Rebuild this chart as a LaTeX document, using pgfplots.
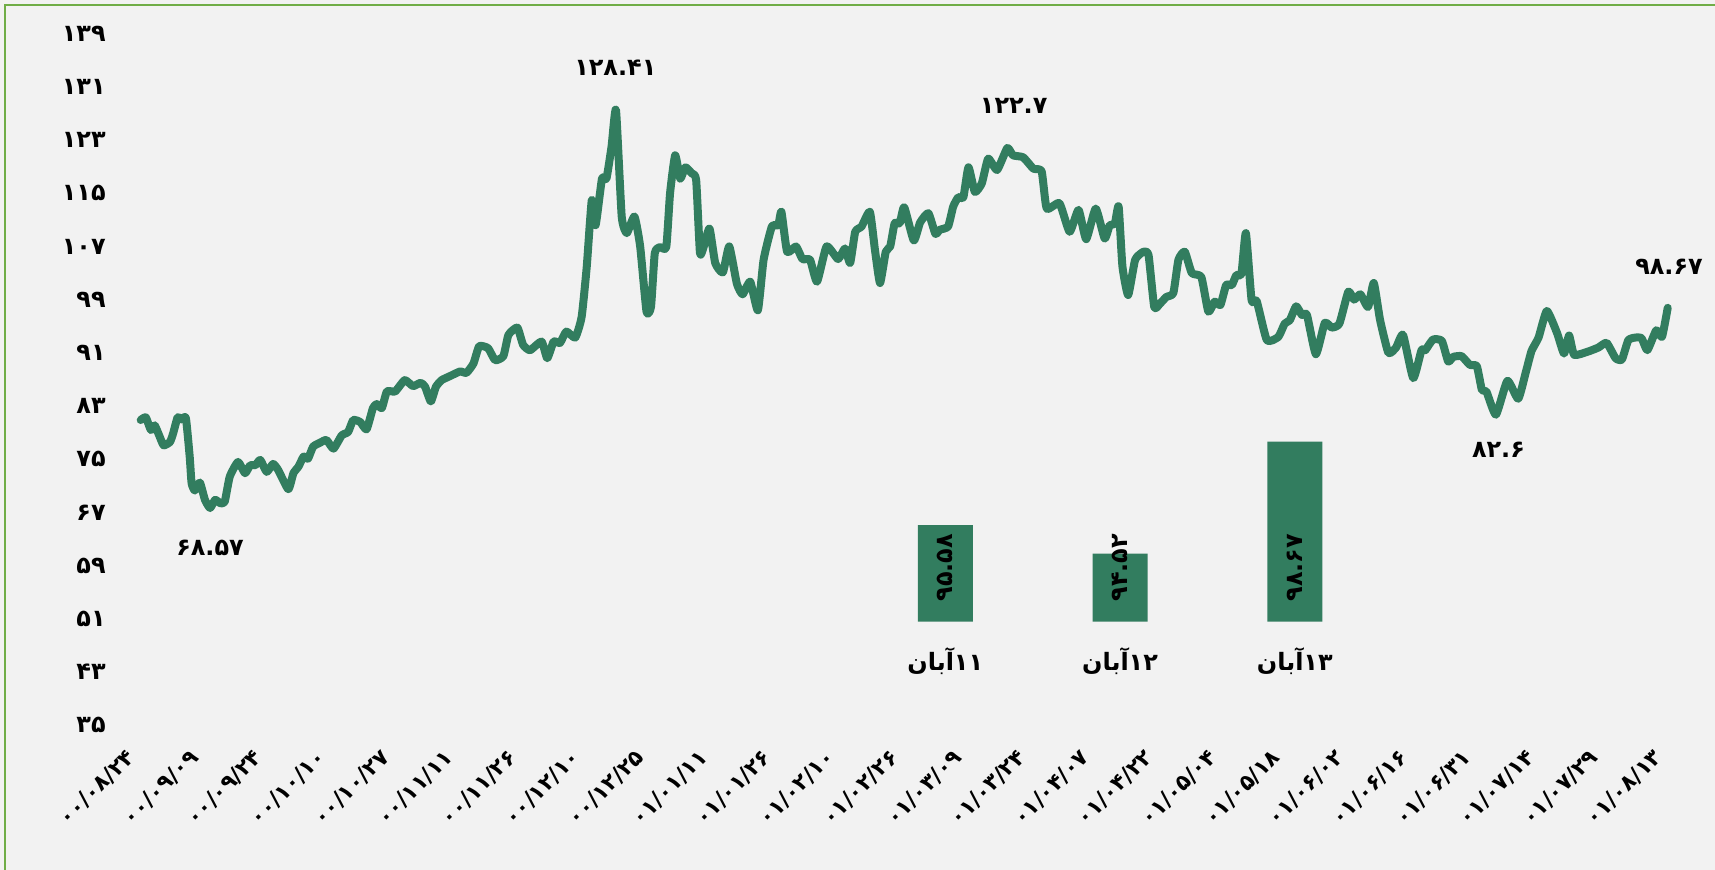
\documentclass[border=0pt]{standalone}
\usepackage{fontspec}
\usepackage{pgfplots}
\pgfplotsset{compat=1.18}
\TeXXeTstate=1
\newfontfamily\fa[Script=Arabic]{DejaVu Sans}
\newfontfamily\fanum{DejaVu Sans}
\definecolor{bgcol}{HTML}{F2F2F2}
\definecolor{framecol}{HTML}{70AD47}
\definecolor{linecol}{RGB}{50,125,95}
\newcommand{\numfont}{\fanum\bfseries\fontsize{12}{14}\selectfont}
\newcommand{\datefont}{\fanum\bfseries\fontsize{11}{13}\selectfont}

\begin{document}
\begin{tikzpicture}
  \fill[bgcol] (0,0) rectangle (857.5bp,435bp);
  \useasboundingbox (0,0) rectangle (857.5bp,435bp);
  \draw[framecol, line width=1.2bp] (2.5bp,0) -- (2.5bp,432.5bp) -- (857.5bp,432.5bp);

  % main line series
  \begin{axis}[
      at={(70.35bp,69.35bp)}, anchor=south west,
      width=763.5bp, height=345.85bp, scale only axis,
      xmin=0, xmax=240, ymin=35, ymax=139,
      axis line style={draw=none}, tick style={draw=none},
      ytick={35,43,...,139},
      yticklabels={۳۵,۴۳,۵۱,۵۹,۶۷,۷۵,۸۳,۹۱,۹۹,۱۰۷,۱۱۵,۱۲۳,۱۳۱,۱۳۹},
      yticklabel style={font=\numfont, anchor=east, xshift=-14bp, yshift=3bp},
      xtick={0,10,...,240},
      xticklabels={۰۰/۰۸/۲۴,۰۰/۰۹/۰۹,۰۰/۰۹/۲۴,۰۰/۱۰/۱۰,۰۰/۱۰/۲۷,۰۰/۱۱/۱۱,۰۰/۱۱/۲۶,۰۰/۱۲/۱۰,۰۰/۱۲/۲۵,۰۱/۰۱/۱۱,۰۱/۰۱/۲۶,۰۱/۰۲/۱۰,۰۱/۰۲/۲۶,۰۱/۰۳/۰۹,۰۱/۰۳/۲۴,۰۱/۰۴/۰۷,۰۱/۰۴/۲۲,۰۱/۰۵/۰۴,۰۱/۰۵/۱۸,۰۱/۰۶/۰۲,۰۱/۰۶/۱۶,۰۱/۰۶/۳۱,۰۱/۰۷/۱۴,۰۱/۰۷/۲۹,۰۱/۰۸/۱۳},
      xticklabel style={font=\datefont, xshift=-8bp, yshift=-3bp, rotate=45, anchor=north east},
      clip=false,
    ]
    \addplot[linecol, line width=4bp, line join=round, line cap=round, smooth, tension=0.3] coordinates {
      (0,81.8) (0.8,82.2) (1.6,80.3) (2.2,81.0) (2.9,79.5) (3.6,78.0) (4.6,78.5) (5.1,79.8)
      (5.8,82.2) (6.4,81.9) (7.1,82.1) (7.7,76.3) (8.0,72.3) (8.5,71.2) (9.3,72.4) (10.1,69.8)
      (10.9,68.57) (11.7,69.8) (12.5,69.3) (13.2,69.5) (14.0,73.3) (15.3,75.5) (16.4,73.8)
      (17.2,75.0) (18.0,75.0) (18.8,75.8) (19.8,74.0) (20.8,75.2) (21.6,74.3) (23.2,71.4)
      (24.0,73.8) (24.8,74.8) (25.6,76.3) (26.3,76.0) (27.1,77.8) (28.2,78.4) (29.2,78.8)
      (30.3,77.5) (31.6,79.5) (32.6,80.0) (33.4,81.8) (34.5,81.5) (35.5,80.4) (36.5,83.6)
      (37.1,84.2) (37.9,83.6) (38.7,86.1) (40.0,86.1) (41.5,87.8) (42.8,86.9) (44.0,87.4)
      (44.7,86.8) (45.6,84.6) (46.4,86.8) (47.3,87.8) (48.6,88.4) (50.2,89.1) (51.2,88.9)
      (52.3,90.3) (53.2,92.9) (54.6,92.6) (55.7,90.8) (57.0,91.4) (57.8,94.6) (59.2,95.7)
      (60.1,93.1) (61.2,92.3) (63.0,93.6) (63.9,91.1) (64.9,93.6) (65.9,93.4) (66.9,95.1)
      (68.3,94.2) (69.3,97.3) (70.1,104.8) (70.9,114.9) (71.5,111.1) (72.5,118.1) (73.2,118.1)
      (74.0,122.9) (74.7,128.41) (75.6,112.4) (76.4,109.9) (77.6,112.4) (78.5,107.9) (79.5,98.1)
      (80.2,98.8) (80.8,106.9) (81.6,107.8) (82.6,107.8) (83.2,115.9) (84.0,121.6) (84.8,118.1)
      (85.6,119.8) (86.6,118.9) (87.3,117.9) (87.9,106.9) (88.5,107.9) (89.4,110.6) (90.3,105.4)
      (91.5,104.0) (92.5,107.9) (93.7,102.3) (94.6,100.7) (95.8,102.6) (97.0,98.3) (97.9,105.9)
      (99.2,110.9) (100.2,111.1) (100.7,113.1) (101.6,107.1) (103.0,107.9) (104.0,106.0)
      (105.2,105.9) (106.3,102.6) (107.8,107.9) (109.6,106.0) (110.7,107.6) (111.5,105.4)
      (112.3,110.1) (113.3,110.9) (114.6,113.1) (115.4,107.4) (116.2,102.4) (117.1,107.1)
      (117.8,107.9) (118.5,111.4) (119.3,111.4) (120.0,113.8) (121.5,108.8) (122.5,111.5)
      (123.8,112.9) (124.9,109.8) (125.6,110.4) (126.9,110.9) (127.7,113.9) (128.5,115.3)
      (129.3,115.3) (130.1,119.8) (131.1,116.1) (132.2,117.4) (133.2,121.1) (134.6,119.4)
      (136.2,122.7) (137.1,121.6) (138.7,121.3) (140.3,119.6) (141.6,119.2) (142.4,113.6)
      (144.4,114.4) (146.0,110.1) (147.4,113.4) (148.6,109.0) (150.1,113.6) (151.5,109.1)
      (152.3,111.1) (153.1,111.3) (153.7,113.9) (154.3,104.9) (155.2,100.6) (156.3,105.9)
      (157.6,107.1) (158.4,106.6) (159.3,98.8) (160.2,99.3) (161.2,100.3) (162.3,100.9)
      (163.1,105.9) (164.1,107.1) (165.2,103.9) (166.7,103.3) (167.8,98.1) (168.8,99.6)
      (169.7,99.1) (170.6,102.1) (171.5,102.1) (172.2,103.6) (173.0,103.8) (173.7,109.9)
      (174.6,99.8) (175.4,99.7) (177.0,93.8) (178.8,94.3) (179.8,96.3) (180.6,96.8)
      (181.6,98.9) (182.5,97.6) (183.3,97.6) (184.7,91.7) (186.1,96.4) (187.2,95.7)
      (188.4,96.3) (189.8,101.1) (190.7,99.9) (191.7,100.7) (192.9,98.8) (193.8,102.4)
      (194.8,96.8) (196.1,91.9) (197.3,92.7) (198.4,94.6) (200.0,88.1) (201.3,92.3)
      (201.9,92.3) (203.1,93.9) (204.5,93.7) (205.5,90.6) (206.3,91.3) (207.6,91.4)
      (208.9,90.1) (210.0,89.9) (210.8,86.3) (211.5,86.1) (213.0,82.6) (214.8,87.7)
      (216.5,85.0) (217.7,89.0) (218.6,92.2) (219.7,94.2) (221.0,98.2) (222.6,94.9)
      (223.7,91.8) (224.5,94.5) (225.3,91.6) (227.5,92.1) (229.1,92.7) (230.4,93.4)
      (231.8,91.1) (232.8,90.9) (233.8,93.8) (234.9,94.2) (235.9,94.1) (236.8,92.3)
      (238.2,95.3) (239.1,94.3) (240.0,98.67)
    };
    \node[font=\numfont] at (axis cs:74.6,134.8) {۱۲۸.۴۱};
    \node[font=\numfont] at (axis cs:137.2,129.0) {۱۲۲.۷};
    \node[font=\numfont] at (axis cs:10.9,62.6) {۶۸.۵۷};
    \node[font=\numfont] at (axis cs:213.4,77.4) {۸۲.۶};
    \node[font=\numfont] at (axis cs:240.2,104.85) {۹۸.۶۷};
  \end{axis}

  % the three daily bars
  \begin{axis}[
      at={(70.35bp,124.15bp)}, anchor=south west,
      width=763.5bp, height=108bp, scale only axis,
      xmin=-3.604, xmax=5.134, ymin=92, ymax=100,
      axis line style={draw=none}, tick style={draw=none},
      ytick=\empty,
      xtick={1,2,3},
      xticklabels={{\beginR ۱۱آبان\endR},{\beginR ۱۲آبان\endR},{\beginR ۱۳آبان\endR}},
      xticklabel style={font=\fa\bfseries\fontsize{12}{14}\selectfont, yshift=-5bp},
      clip mode=individual,
      ybar, bar width=27.5bp,
    ]
    \addplot[fill=linecol, draw=none] coordinates {(1,95.58) (2,94.52) (3,98.67)};
    \node[font=\numfont, inner sep=0pt, yshift=10bp, rotate=90, anchor=west] at (axis cs:1,92) {۹۵.۵۸};
    \node[font=\numfont, inner sep=0pt, yshift=10bp, rotate=90, anchor=west] at (axis cs:2,92) {۹۴.۵۲};
    \node[font=\numfont, inner sep=0pt, yshift=10bp, rotate=90, anchor=west] at (axis cs:3,92) {۹۸.۶۷};
  \end{axis}
\end{tikzpicture}
\end{document}
